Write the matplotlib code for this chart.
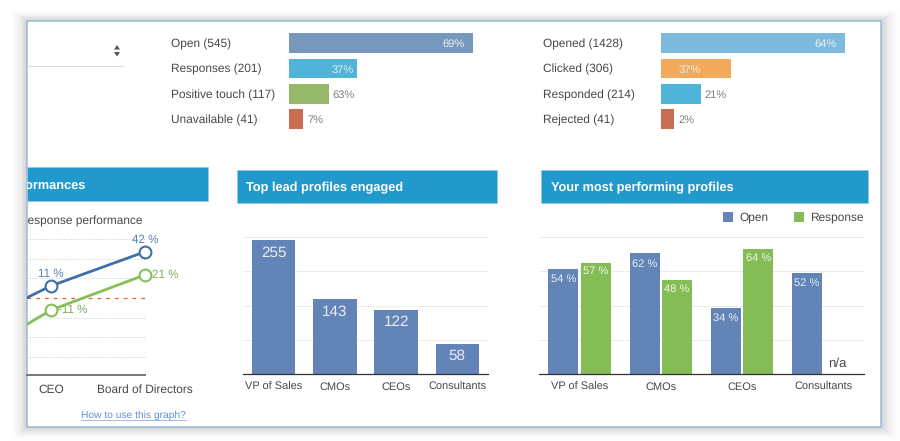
import matplotlib
matplotlib.use("Agg")
import matplotlib.pyplot as plt
from matplotlib.patches import Rectangle, Polygon

plt.rcParams['font.family'] = ['Liberation Sans', 'DejaVu Sans']
plt.rcParams['text.hinting'] = 'no_hinting'

W, H = 900, 441

# --- Data ---
left_labels = ["Open (545)", "Responses (201)", "Positive touch (117)", "Unavailable (41)"]
left_values = [545, 201, 117, 41]
left_pct = ["69%", "37%", "63%", "7%"]
left_colors = ["#7698bc", "#4fb3da", "#96b86b", "#cb6d50"]

right_labels = ["Opened (1428)", "Clicked (306)", "Responded (214)", "Rejected (41)"]
right_lengths = [100, 38, 21.5, 7]  # bar lengths read off the picture, not to scale with counts
right_pct = ["64%", "37%", "21%", "2%"]
right_colors = ["#7dbbde", "#f3a95b", "#4fb3da", "#c96d50"]

line_cats = ["", "CEO", "Board of Directors"]
line_open = [-31, 11, 42]
line_response = [-62, -11, 21]

lead_cats = ["VP of Sales", "CMOs", "CEOs", "Consultants"]
lead_values = [255, 143, 122, 58]

perf_open = [54, 62, 34, 52]
perf_response = [57, 48, 64, None]

BLUE = "#6284b6"
GREEN = "#84bd55"
TEXT = "#484848"
HEADER = "#2199cd"
GRID = "#d8d8d8"

fig = plt.figure(figsize=(W / 100, H / 100), dpi=100, facecolor="white")


def px_axes(x0, y0, x1, y1):
    # axes from pixel box (y going down)
    ax = fig.add_axes([x0 / W, 1 - y1 / H, (x1 - x0) / W, (y1 - y0) / H])
    ax.patch.set_alpha(0)
    return ax


# --- Page, shadow and frame ---
base = px_axes(0, 0, W, H)
base.set_xlim(0, W)
base.set_ylim(H, 0)
base.axis("off")

# soft shadow, darker near the frame
for i in range(18, 0, -1):
    a = 0.002 + 0.0009 * (18 - i)
    base.add_patch(Rectangle((27 - i * 0.9, 21 - i * 0.65), 854 + i * 1.95, 406 + i * 1.4,
                             fc="black", ec="none", alpha=a))
panel = Rectangle((27, 21), 854, 406, fc="white", ec="#9db8dc", lw=1.1)
base.add_patch(panel)

# select box remains
base.plot([27, 123], [65.5, 65.5], color="#dddddd", lw=0.8)
base.add_patch(Polygon([[114, 49.5], [117, 45], [120, 49.5]], fc="#555555", ec="none"))
base.add_patch(Polygon([[114, 52], [117, 56.5], [120, 52]], fc="#555555", ec="none"))

# --- Section headers ---
headers = [(27, 167, 208, 201), (237, 170, 497, 203), (541, 170, 868, 203)]
for x0, y0, x1, y1 in headers:
    base.add_patch(Rectangle((x0, y0), x1 - x0, y1 - y0, fc=HEADER, ec="#8fcbe6", lw=0.6))

t = base.text(85, 185.5, "Top performances", color="white", fontsize=9.15, fontweight="bold",
              ha="right", va="center", clip_on=True)
t.set_clip_path(panel)
base.text(246, 187.5, "Top lead profiles engaged", color="white", fontsize=9.15, fontweight="bold",
          va="center")
base.text(551, 187.5, "Your most performing profiles", color="white", fontsize=9.15, fontweight="bold",
          va="center")

t = base.text(142.5, 221.5, "Response performance", color=TEXT, fontsize=8.6, ha="right", va="center",
              clip_on=True)
t.set_clip_path(panel)
base.text(133, 415.5, "How to use this graph?", color="#5b90d2", fontsize=7.4, ha="center", va="center")
base.plot([81, 185.5], [419.8, 419.8], color="#8fb2e0", lw=0.6)

# legend of the profiles chart
base.add_patch(Rectangle((723, 212), 9.5, 9.5, fc=BLUE, ec="none"))
base.text(739.5, 217, "Open", color=TEXT, fontsize=8.6, va="center")
base.add_patch(Rectangle((794, 212), 9.5, 9.5, fc=GREEN, ec="none"))
base.text(810, 217, "Response", color=TEXT, fontsize=8.6, va="center")


# --- Top horizontal bars ---
def hbar_group(box, xmax, labels, values, pct, colors, inside, pad):
    ax = px_axes(*box)
    ax.barh(range(4), values, height=0.78, color=colors)
    ax.set_xlim(0, xmax)
    ax.set_ylim(3.5, -0.5)
    ax.set_xticks([])
    ax.set_yticks(range(4), labels, color=TEXT, fontsize=8.6, ha="left", va="center_baseline")
    ax.tick_params(axis="y", length=0, pad=pad)
    for s in ax.spines.values():
        s.set_visible(False)
    for i, v in enumerate(values):
        if inside[i]:
            ax.annotate(pct[i], (v, i), xytext=(inside[i], 0), textcoords="offset points",
                        color="#e8eef5", fontsize=8, ha="right", va="center_baseline")
        else:
            ax.annotate(pct[i], (v, i), xytext=(3, 0), textcoords="offset points",
                        color="#808080", fontsize=8, ha="left", va="center_baseline")
    return ax


hbar_group((289, 30.5, 473, 131.8), 545, left_labels, left_values, left_pct, left_colors,
           [-6, -2.5, 0, 0], 84.8)
hbar_group((661, 30.5, 845, 131.8), 100, right_labels, right_lengths, right_pct, right_colors,
           [-6, -22, 0, 0], 84.8)


# --- Line chart, cut by the frame on the left ---
ax = px_axes(27, 239, 145, 375)
ax.set_xlim(0.745, 2)
ax.set_ylim(-70, 53.6)
for g in [-53.6, -35.7, -17.9, 17.9, 35.7, 53.6]:
    ax.axhline(g, color="#cccccc", lw=0.7, ls=(0, (1, 1.5)), zorder=1)
ax.axhline(0, color="#e0662e", lw=0.9, ls=(0, (3, 4)), zorder=1)
xs = range(len(line_cats))
ax.plot(xs, line_open, color="#3f6fa8", lw=2, marker="o", ms=8.5, mfc="white", mew=1.5,
        zorder=3)
ax.plot(xs, line_response, color="#85c057", lw=2, marker="o", ms=8.5, mfc="white", mew=1.5,
        zorder=3)
for line in ax.lines[-2:]:
    line.set_clip_on(True)
    line.set_clip_path(panel)
ax.annotate("11 %", (1, line_open[1]), xytext=(0, 5), textcoords="offset points",
            color="#5e80b0", fontsize=8.4, ha="center", va="bottom")
ax.annotate("42 %", (2, line_open[2]), xytext=(0, 4.5), textcoords="offset points",
            color="#5e80b0", fontsize=8.4, ha="center", va="bottom")
ax.annotate("-11 %", (1, line_response[1]), xytext=(5, 0), textcoords="offset points",
            color="#7fae55", fontsize=8.4, ha="left", va="center")
ax.annotate("21 %", (2, line_response[2]), xytext=(5, 0), textcoords="offset points",
            color="#7fae55", fontsize=8.4, ha="left", va="center")
ax.set_xticks([1, 2], line_cats[1:], color=TEXT, fontsize=8.6)
ax.set_yticks([])
ax.tick_params(axis="x", length=0, pad=6.5)
for name, s in ax.spines.items():
    s.set_visible(name == "bottom")
ax.spines["bottom"].set_color("#777777")
ax.spines["bottom"].set_linewidth(1.4)


def column_axes(box, ymax, cats):
    ax = px_axes(*box)
    ax.set_xlim(-0.5, 3.5)
    ax.set_ylim(0, ymax)
    for k in range(1, 5):
        ax.axhline(ymax * k / 4, color=GRID, lw=0.7, ls=(0, (1, 1)), zorder=1)
    ax.set_xticks(range(4), cats, color=TEXT, fontsize=7.9)
    ax.set_yticks([])
    ax.tick_params(axis="x", length=0, pad=5.5)
    for name, s in ax.spines.items():
        s.set_visible(name == "bottom")
    ax.spines["bottom"].set_color("#333333")
    ax.spines["bottom"].set_linewidth(0.9)
    return ax


# --- Top lead profiles ---
ax = column_axes((243, 237, 488, 374), 261, lead_cats)
ax.bar(range(4), lead_values, width=0.71, color=BLUE, zorder=2)
for i, v in enumerate(lead_values):
    ax.annotate(str(v), (i, v), xytext=(0, -4), textcoords="offset points", color="#e8eef5",
                fontsize=11, ha="center", va="top")

# --- Most performing profiles ---
ax = column_axes((539, 237, 864, 374), 70.26, lead_cats)
for i in range(4):
    ax.bar(i - 0.2, perf_open[i], width=0.37, color=BLUE, zorder=2)
    ax.annotate(f"{perf_open[i]} %", (i - 0.2, perf_open[i]), xytext=(0, -4), textcoords="offset points",
                color="#e8eef5", fontsize=8, ha="center", va="top")
    if perf_response[i] is None:
        ax.annotate("n/a", (i + 0.2, 0), xytext=(-2, 3), textcoords="offset points",
                    color=TEXT, fontsize=9.5, ha="center", va="bottom")
    else:
        ax.bar(i + 0.2, perf_response[i], width=0.37, color=GREEN, zorder=2)
        ax.annotate(f"{perf_response[i]} %", (i + 0.2, perf_response[i]), xytext=(0, -2.5),
                    textcoords="offset points", color="#eef6e6", fontsize=8, ha="center", va="top")

fig.savefig("out.png", dpi=100)
